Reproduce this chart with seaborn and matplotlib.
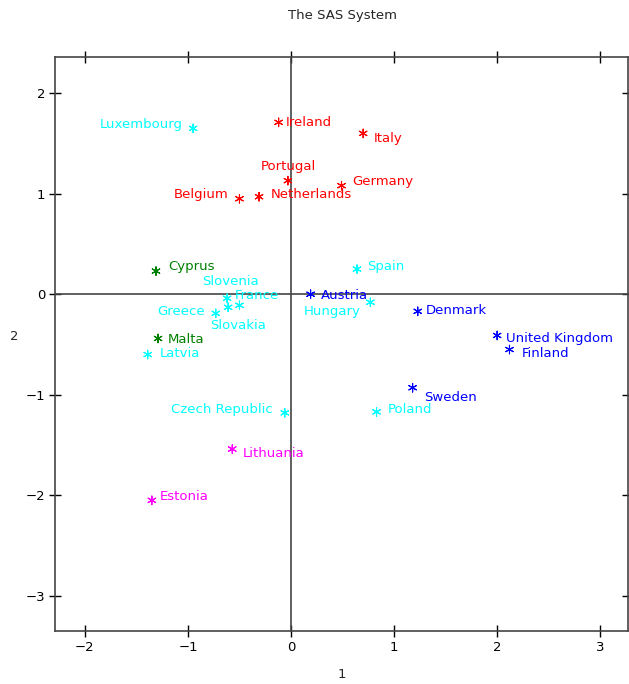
import matplotlib
matplotlib.use("Agg")
import matplotlib.pyplot as plt
import seaborn as sns
import pandas as pd

countries = ["Ireland", "Italy", "Portugal", "Germany", "Belgium", "Netherlands",
             "Luxembourg", "Spain", "France", "Slovenia", "Slovakia", "Greece",
             "Hungary", "Latvia", "Czech Republic", "Poland",
             "Cyprus", "Malta",
             "Austria", "Denmark", "United Kingdom", "Finland", "Sweden",
             "Lithuania", "Estonia"]
dim1 = [-0.12, 0.70, -0.03, 0.49, -0.50, -0.31,
        -0.95, 0.64, -0.62, -0.50, -0.61, -0.73,
        0.77, -1.39, -0.06, 0.83,
        -1.31, -1.29,
        0.19, 1.23, 2.00, 2.12, 1.18,
        -0.57, -1.35]
dim2 = [1.71, 1.60, 1.13, 1.08, 0.95, 0.97,
        1.65, 0.25, -0.04, -0.11, -0.13, -0.19,
        -0.08, -0.60, -1.18, -1.17,
        0.23, -0.44,
        0.00, -0.17, -0.41, -0.55, -0.93,
        -1.54, -2.05]
cluster = ["1"] * 6 + ["2"] * 10 + ["3"] * 2 + ["4"] * 5 + ["5"] * 2

palette = {"1": "#ff0000", "2": "#00ffff", "3": "#008000", "4": "#0000ff", "5": "#ff00ff"}

# label placement: (dx px, dy px, ha) relative to the marker (dy positive = up)
label_pos = {
    "Ireland": (7, 0, "left"), "Italy": (11, -5, "left"), "Portugal": (0, 14, "center"),
    "Germany": (11, 4, "left"), "Belgium": (-11, 4, "right"), "Netherlands": (12, 2, "left"),
    "Luxembourg": (-10, 4, "right"), "Spain": (10, 3, "left"), "France": (8, 3, "left"),
    "Slovenia": (-9, 24, "center"), "Slovakia": (10, -18, "center"), "Greece": (-11, 2, "right"),
    "Hungary": (-10, -9, "right"), "Latvia": (12, 1, "left"), "Czech Republic": (-12, 3, "right"),
    "Poland": (11, 2, "left"), "Cyprus": (12, 5, "left"), "Malta": (10, -1, "left"),
    "Austria": (10, -1, "left"), "Denmark": (8, 1, "left"), "United Kingdom": (9, -3, "left"),
    "Finland": (12, -4, "left"), "Sweden": (12, -10, "left"), "Lithuania": (10, -4, "left"),
    "Estonia": (8, 4, "left"),
}

df = pd.DataFrame({"country": countries, "x": dim1, "y": dim2, "cluster": cluster})

sns.set_style("white")
plt.rcParams["font.family"] = ["DejaVu Sans"]

fig = plt.figure(figsize=(6.29, 6.84), dpi=100)
ax = fig.add_axes([55 / 629, 53 / 684, 573 / 629, 574 / 684])

ax.axhline(0, color="#444444", lw=1.2, zorder=1)
ax.axvline(0, color="#444444", lw=1.2, zorder=1)

sns.scatterplot(data=df, x="x", y="y", hue="cluster", palette=palette,
                marker=(6, 2, 0), s=38, linewidth=0.8, legend=False, ax=ax, zorder=3)
for coll in ax.collections:
    coll.set_edgecolors(coll.get_facecolors())

for _, r in df.iterrows():
    dx, dy, ha = label_pos[r["country"]]
    ax.annotate(r["country"], (r["x"], r["y"]), xytext=(dx * 0.72, dy * 0.72),
                textcoords="offset points", ha=ha, va="center",
                color=palette[r["cluster"]], fontsize=9.5)

ax.set_xlim(-2.29, 3.27)
ax.set_ylim(-3.35, 2.36)
ax.set_xticks([-2, -1, 0, 1, 2, 3])
ax.set_yticks([-3, -2, -1, 0, 1, 2])
ax.tick_params(direction="inout", length=8, width=1, colors="black", labelsize=9.5,
               top=True, right=True, bottom=True, left=True, pad=3)
for sp in ax.spines.values():
    sp.set_color("#444444")
    sp.set_linewidth(1.2)

ax.set_xlabel("")
ax.set_ylabel("")
fig.text(342 / 629, 1 - 675 / 684, "1", ha="center", va="center", fontsize=9.5)
fig.text(14 / 629, 1 - 337 / 684, "2", ha="center", va="center", fontsize=9.5)
fig.text(342 / 629, 1 - 16 / 684, "The SAS System", ha="center", va="center", fontsize=9.5)

fig.savefig("out.png", dpi=100, facecolor="white")
